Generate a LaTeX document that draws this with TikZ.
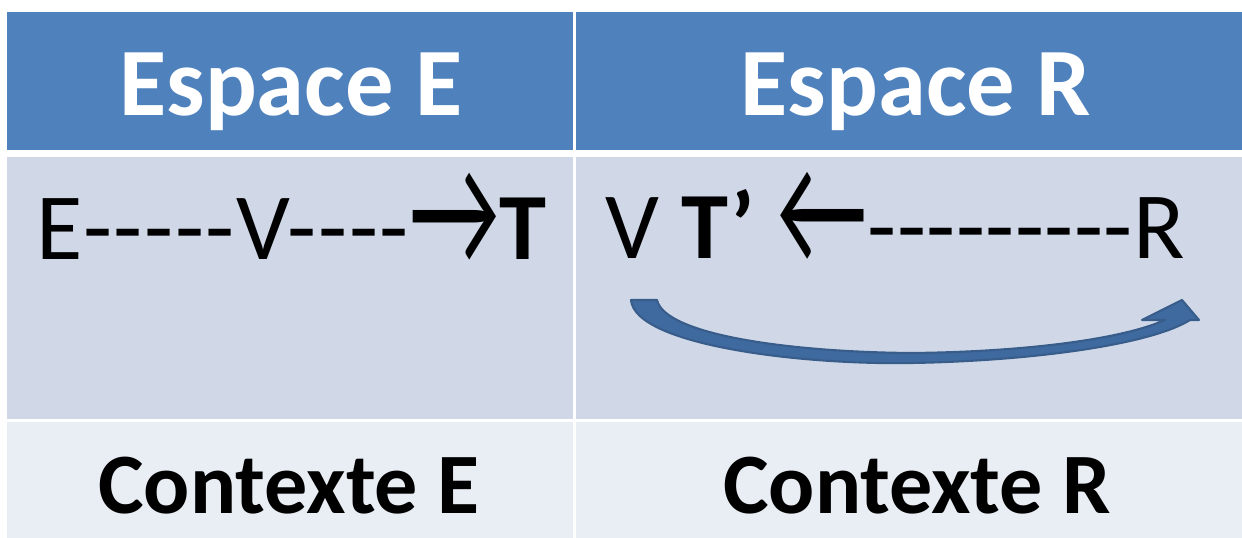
\documentclass[tikz,border=0pt]{standalone}
\usepackage{fontspec}
\setmainfont{Carlito}[Ligatures=TeXOff]
\usetikzlibrary{positioning}

\definecolor{hdblue}{HTML}{4F81BD}
\definecolor{rowblue}{HTML}{D0D8E8}
\definecolor{ctxblue}{HTML}{E9EDF4}
\definecolor{arrfill}{HTML}{3F6A9F}
\definecolor{arredge}{HTML}{385D8A}

% large text arrows
\newcommand{\bigright}{\raisebox{-0.12cm}{\scalebox{1.05}[1.7]{→}}}
\newcommand{\bigleft}{\raisebox{-0.12cm}{\scalebox{1.05}[1.7]{←}}}

\begin{document}
\begin{tikzpicture}[x=0.02cm,y=-0.02cm,
  hdtext/.style={font=\fontsize{55}{60}\selectfont\bfseries, text=white, inner sep=0pt},
  flowtext/.style={font=\fontsize{54}{60}\selectfont, inner sep=0pt},
  ctxtext/.style={font=\fontsize{49}{55}\selectfont\bfseries, inner sep=0pt}]
\useasboundingbox (0,0) rectangle (1242,538);

% table cells
\fill[hdblue] (7,12) rectangle (573,150);
\fill[hdblue] (576,12) rectangle (1242,150);
\fill[rowblue] (7,157) rectangle (573,419);
\fill[rowblue] (576,157) rectangle (1242,419);
\fill[ctxblue] (7,422) rectangle (573,538);
\fill[ctxblue] (576,422) rectangle (1242,538);

% headers
\node[hdtext, anchor=base] (hdE) at (291,115) {Espace E};
\node[hdtext, anchor=base] (hdR) at (916,115) {Espace R};

% chains
\node[flowtext, anchor=base west] (flowE) at (36,259)
  {\addfontfeature{LetterSpace=1.8}E-----V----\bigright\textbf{T}};
\node[flowtext, anchor=base west] (flowR) at (605,258)
  {\addfontfeature{LetterSpace=0.5}V \textbf{T’} \bigleft---------R};

% curved arrow under the right chain
\draw[arredge, fill=arrfill, line width=1.2pt, line join=round]
  (631,300) .. controls (635,345) and (800,365) .. (911,363)
  .. controls (1030,361) and (1150,345) .. (1190,320)
  -- (1199,320) -- (1182,300) -- (1142,320) -- (1165,320)
  .. controls (1120,340) and (1020,352) .. (911,353)
  .. controls (790,352) and (665,335) .. (657,300) -- cycle;

% contexts
\node[ctxtext, anchor=base] (ctxE) at (289,513) {Contexte E};
\node[ctxtext, anchor=base] (ctxR) at (917,513) {Contexte R};
\end{tikzpicture}
\end{document}
